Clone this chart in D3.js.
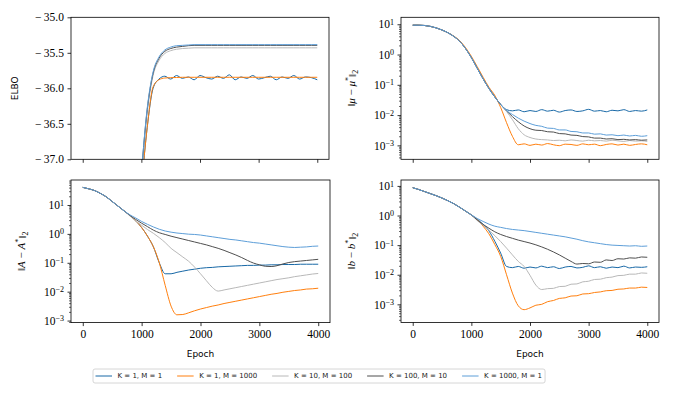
<!DOCTYPE html>
<html>
<head>
<meta charset="utf-8">
<script src="https://cdn.jsdelivr.net/npm/d3@7.9.0/dist/d3.min.js"></script>
<style>
  body { margin: 0; background: #fff; }
  .tick text { font-family: "Liberation Serif", serif; font-size: 11.5px; fill: #000; }
  .sans { font-family: "DejaVu Sans", sans-serif; }
  .math { font-family: "Liberation Serif", serif; }
</style>
</head>
<body>
<svg id="chart" width="677" height="396"></svg>
<script>
// sample epochs (every 100)
const epochs = [
  0, 100, 200, 300, 400, 500, 600, 700, 800, 900,
  1000, 1100, 1200, 1300, 1400, 1500, 1600, 1700, 1800, 1900,
  2000, 2100, 2200, 2300, 2400, 2500, 2600, 2700, 2800, 2900,
  3000, 3100, 3200, 3300, 3400, 3500, 3600, 3700, 3800, 3900, 4000,
];
const xTicks = [0, 1000, 2000, 3000, 4000];
const runLabels = ['K = 1, M = 1', 'K = 1, M = 1000', 'K = 10, M = 100', 'K = 100, M = 10', 'K = 1000, M = 1'];
const runColors = ['#1868a6', '#ff7f0e', '#b8b8b8', '#4f4f4f', '#5d9ed8'];

// ELBO (null = below the visible range)
const elboK1M1 = [
  null, null, null, null, null, null, null, null, null, null,
  -37.4, -36.55, -36.0, -35.87, -35.83, -35.87, -35.82, -35.86, -35.84, -35.88,
  -35.82, -35.85, -35.87, -35.83, -35.86, -35.81, -35.88, -35.84, -35.86, -35.82,
  -35.87, -35.85, -35.83, -35.88, -35.84, -35.86, -35.82, -35.87, -35.84, -35.85, -35.88,
];
const elboK1M1000 = [
  null, null, null, null, null, null, null, null, null, null,
  -37.4, -36.55, -35.98, -35.88, -35.855, -35.85, -35.848, -35.845, -35.845, -35.845,
  -35.845, -35.845, -35.845, -35.845, -35.845, -35.845, -35.845, -35.845, -35.845, -35.845,
  -35.845, -35.845, -35.845, -35.845, -35.845, -35.845, -35.845, -35.845, -35.845, -35.845, -35.845,
];
const elboK10M100 = [
  null, null, null, null, null, null, null, null, null, null,
  -37.25, -36.35, -35.82, -35.61, -35.51, -35.47, -35.45, -35.44, -35.435, -35.43,
  -35.43, -35.43, -35.43, -35.43, -35.43, -35.43, -35.43, -35.43, -35.43, -35.43,
  -35.43, -35.43, -35.43, -35.43, -35.43, -35.43, -35.43, -35.43, -35.43, -35.43, -35.43,
];
const elboK100M10 = [
  null, null, null, null, null, null, null, null, null, null,
  -37.2, -36.3, -35.79, -35.58, -35.48, -35.44, -35.42, -35.41, -35.4, -35.395,
  -35.395, -35.395, -35.395, -35.395, -35.395, -35.395, -35.395, -35.395, -35.395, -35.395,
  -35.395, -35.395, -35.395, -35.395, -35.395, -35.395, -35.395, -35.395, -35.395, -35.395, -35.395,
];
const elboK1000M1 = [
  null, null, null, null, null, null, null, null, null, null,
  -37.2, -36.28, -35.77, -35.56, -35.46, -35.42, -35.4, -35.395, -35.39, -35.385,
  -35.385, -35.385, -35.385, -35.385, -35.385, -35.385, -35.385, -35.385, -35.385, -35.385,
  -35.385, -35.385, -35.385, -35.385, -35.385, -35.385, -35.385, -35.385, -35.385, -35.385, -35.385,
];

// log10 of ||mu - mu*||_2
const muK1M1 = [
  0.97, 0.97, 0.96, 0.93, 0.88, 0.81, 0.72, 0.6, 0.44, 0.2,
  -0.1, -0.45, -0.8, -1.12, -1.4, -1.65, -1.82, -1.86, -1.83, -1.89,
  -1.85, -1.88, -1.82, -1.87, -1.84, -1.9, -1.85, -1.83, -1.88, -1.86,
  -1.81, -1.87, -1.85, -1.89, -1.84, -1.86, -1.82, -1.88, -1.85, -1.87, -1.83,
];
const muK1M1000 = [
  0.97, 0.97, 0.96, 0.93, 0.88, 0.81, 0.72, 0.61, 0.46, 0.23,
  -0.06, -0.4, -0.75, -1.08, -1.35, -1.75, -2.25, -2.7, -2.98, -2.95,
  -3.0, -2.96, -2.99, -2.94, -2.98, -3.01, -2.96, -2.97, -3.0, -2.95,
  -2.98, -2.96, -3.01, -2.97, -2.95, -2.99, -2.96, -3.0, -2.97, -2.95, -2.98,
];
const muK10M100 = [
  0.97, 0.97, 0.96, 0.93, 0.88, 0.81, 0.72, 0.6, 0.44, 0.2,
  -0.1, -0.45, -0.8, -1.12, -1.4, -1.65, -1.88, -2.15, -2.45, -2.65,
  -2.74, -2.79, -2.81, -2.82, -2.84, -2.83, -2.85, -2.82, -2.84, -2.86,
  -2.83, -2.85, -2.84, -2.86, -2.83, -2.85, -2.87, -2.84, -2.86, -2.85, -2.87,
];
const muK100M10 = [
  0.97, 0.97, 0.96, 0.93, 0.88, 0.81, 0.72, 0.6, 0.44, 0.2,
  -0.1, -0.45, -0.8, -1.12, -1.4, -1.65, -1.86, -2.05, -2.22, -2.36,
  -2.45, -2.5, -2.51, -2.55, -2.56, -2.61, -2.62, -2.66, -2.67, -2.71,
  -2.72, -2.76, -2.76, -2.79, -2.78, -2.81, -2.8, -2.82, -2.81, -2.83, -2.82,
];
const muK1000M1 = [
  0.97, 0.97, 0.96, 0.93, 0.88, 0.81, 0.72, 0.6, 0.44, 0.2,
  -0.1, -0.45, -0.8, -1.12, -1.4, -1.65, -1.85, -1.98, -2.1, -2.2,
  -2.28, -2.34, -2.37, -2.43, -2.44, -2.49, -2.49, -2.54, -2.55, -2.59,
  -2.59, -2.63, -2.62, -2.66, -2.65, -2.68, -2.66, -2.69, -2.67, -2.7, -2.68,
];

// log10 of ||A - A*||_2
const aK1M1 = [
  1.61, 1.56, 1.5, 1.4, 1.28, 1.12, 0.96, 0.8, 0.64, 0.45,
  0.22, -0.08, -0.45, -1.0, -1.38, -1.38, -1.33, -1.29, -1.25, -1.22,
  -1.19, -1.17, -1.16, -1.14, -1.13, -1.12, -1.11, -1.1, -1.09, -1.09,
  -1.08, -1.08, -1.07, -1.07, -1.06, -1.06, -1.06, -1.05, -1.05, -1.05, -1.05,
];
const aK1M1000 = [
  1.61, 1.56, 1.5, 1.4, 1.28, 1.12, 0.96, 0.8, 0.64, 0.45,
  0.22, -0.08, -0.45, -1.0, -1.78, -2.5, -2.8, -2.79, -2.73, -2.66,
  -2.6, -2.55, -2.5, -2.46, -2.41, -2.37, -2.33, -2.29, -2.25, -2.21,
  -2.17, -2.13, -2.09, -2.06, -2.02, -1.99, -1.96, -1.94, -1.91, -1.9, -1.88,
];
const aK10M100 = [
  1.61, 1.56, 1.5, 1.4, 1.28, 1.12, 0.96, 0.8, 0.62, 0.45,
  0.3, 0.15, 0.02, -0.13, -0.3, -0.5, -0.65, -0.8, -0.95, -1.15,
  -1.38, -1.62, -1.85, -1.98, -1.94, -1.9, -1.86, -1.82, -1.78, -1.74,
  -1.7, -1.66, -1.62, -1.58, -1.55, -1.52, -1.48, -1.45, -1.42, -1.39, -1.37,
];
const aK100M10 = [
  1.61, 1.56, 1.5, 1.4, 1.28, 1.12, 0.96, 0.8, 0.64, 0.5,
  0.37, 0.25, 0.13, 0.04, -0.02, -0.08, -0.13, -0.18, -0.23, -0.28,
  -0.33, -0.38, -0.44, -0.5, -0.57, -0.65, -0.73, -0.82, -0.92, -1.01,
  -1.07, -1.12, -1.13, -1.1, -1.04, -0.99, -0.96, -0.94, -0.92, -0.9, -0.88,
];
const aK1000M1 = [
  1.61, 1.56, 1.5, 1.4, 1.28, 1.12, 0.96, 0.8, 0.66, 0.55,
  0.43, 0.33, 0.24, 0.16, 0.1, 0.06, 0.03, 0.01, -0.01, -0.02,
  -0.04, -0.07, -0.1, -0.13, -0.16, -0.19, -0.21, -0.24, -0.27, -0.3,
  -0.32, -0.35, -0.38, -0.41, -0.44, -0.46, -0.47, -0.46, -0.45, -0.43, -0.42,
];

// log10 of ||b - b*||_2
const bK1M1 = [
  0.94, 0.88, 0.81, 0.74, 0.67, 0.59, 0.5, 0.4, 0.28, 0.15,
  0.02, -0.12, -0.3, -0.52, -0.87, -1.27, -1.72, -1.76, -1.72, -1.78,
  -1.74, -1.77, -1.71, -1.76, -1.73, -1.79, -1.74, -1.72, -1.77, -1.75,
  -1.7, -1.76, -1.73, -1.78, -1.74, -1.76, -1.71, -1.77, -1.74, -1.75, -1.73,
];
const bK1M1000 = [
  0.94, 0.88, 0.81, 0.74, 0.67, 0.59, 0.5, 0.4, 0.28, 0.15,
  0.02, -0.14, -0.36, -0.62, -0.98, -1.38, -2.0, -2.62, -3.05, -3.18,
  -3.12, -3.03, -3.0, -2.91, -2.87, -2.8, -2.78, -2.72, -2.71, -2.65,
  -2.64, -2.6, -2.58, -2.54, -2.53, -2.49, -2.48, -2.45, -2.45, -2.42, -2.43,
];
const bK10M100 = [
  0.94, 0.88, 0.81, 0.74, 0.67, 0.59, 0.5, 0.4, 0.28, 0.15,
  0.02, -0.17, -0.33, -0.5, -0.68, -0.88, -1.1, -1.33, -1.55, -1.72,
  -2.02, -2.35, -2.5, -2.47, -2.46, -2.4, -2.39, -2.32, -2.31, -2.24,
  -2.22, -2.16, -2.15, -2.1, -2.08, -2.03, -2.02, -1.98, -1.98, -1.94, -1.95,
];
const bK100M10 = [
  0.94, 0.88, 0.81, 0.74, 0.67, 0.59, 0.5, 0.4, 0.28, 0.15,
  0.02, -0.15, -0.3, -0.43, -0.55, -0.64, -0.71, -0.77, -0.83, -0.88,
  -0.93, -0.99, -1.06, -1.14, -1.23, -1.33, -1.44, -1.55, -1.64, -1.62,
  -1.63, -1.57, -1.58, -1.5, -1.52, -1.46, -1.47, -1.43, -1.44, -1.4, -1.41,
];
const bK1000M1 = [
  0.94, 0.88, 0.81, 0.74, 0.67, 0.59, 0.5, 0.4, 0.28, 0.15,
  0.02, -0.1, -0.2, -0.29, -0.36, -0.4, -0.44, -0.47, -0.49, -0.51,
  -0.54, -0.57, -0.6, -0.63, -0.66, -0.69, -0.72, -0.76, -0.8, -0.85,
  -0.89, -0.92, -0.95, -0.98, -1.0, -1.01, -1.02, -1.03, -1.02, -1.04, -1.03,
];

const svg = d3.select('#chart');

const panels = [
  { id: 'elbo', series: [elboK1M1, elboK1M1000, elboK10M100, elboK100M10, elboK1000M1],
    log: false, domain: [-37, -35], yTicks: [-37, -36.5, -36, -35.5, -35],
    box: [71, 329, 17.3, 159.3], xLabels: false, labelX: 15 },
  { id: 'mu', series: [muK1M1, muK1M1000, muK10M100, muK100M10, muK1000M1],
    log: true, domain: [-3.46, 1.23],
    box: [401, 659, 17.3, 159.3], xLabels: false, labelX: 352, sym: 'μ' },
  { id: 'A', series: [aK1M1, aK1M1000, aK10M100, aK100M10, aK1000M1],
    log: true, domain: [-3.07, 1.865],
    box: [71, 330, 180, 322.6], xLabels: true, labelX: 22, sym: 'A' },
  { id: 'b', series: [bK1M1, bK1M1000, bK10M100, bK100M10, bK1000M1],
    log: true, domain: [-3.61, 1.2],
    box: [401, 659, 180, 322.4], xLabels: true, labelX: 352, sym: 'b' },
];

const supText = (e) => (e < 0 ? '\u2212' + (-e) : String(e));
// mathtext-style minus: a little wider gap before the number
const elboFmt = (v) => (v < 0 ? '\u2212\u2009' : '') + d3.format('.1f')(Math.abs(v));

panels.forEach((p) => {
  const [x0, x1, y0, y1] = p.box;
  const x = d3.scaleLinear().domain([-200, 4200]).range([x0, x1]);
  const y = p.log
    ? d3.scaleLog().domain([10 ** p.domain[0], 10 ** p.domain[1]]).range([y1, y0])
    : d3.scaleLinear().domain(p.domain).range([y1, y0]);
  const yv = (d) => (p.log ? 10 ** d : d);

  const g = svg.append('g');
  const clipId = 'clip-' + p.id;
  g.append('clipPath').attr('id', clipId)
    .append('rect').attr('x', x0).attr('y', y0).attr('width', x1 - x0).attr('height', y1 - y0);

  const line = d3.line()
    .defined((d) => d != null)
    .x((d, i) => x(epochs[i]))
    .y((d) => y(yv(d)))
    .curve(d3.curveMonotoneX);

  g.append('g').attr('clip-path', `url(#${clipId})`)
    .selectAll('path')
    .data(p.series)
    .join('path')
    .attr('d', line)
    .attr('fill', 'none')
    .attr('stroke', (d, i) => runColors[i])
    .attr('stroke-width', 1)
    .attr('stroke-linejoin', 'round');

  // x axis
  const xAxis = d3.axisBottom(x).tickValues(xTicks).tickSize(3.5).tickPadding(3.5)
    .tickFormat(p.xLabels ? d3.format('d') : '');
  g.append('g').attr('transform', `translate(0,${y1})`).call(xAxis)
    .call((a) => a.select('.domain').remove())
    .call((a) => a.selectAll('line').attr('stroke-width', 0.8));

  // y axis
  if (p.log) {
    const lo = Math.ceil(p.domain[0]);
    const hi = Math.floor(p.domain[1]);
    const majors = d3.range(lo, hi + 1).map((e) => 10 ** e);
    const minors = [];
    for (let e = Math.floor(p.domain[0]); e <= hi; e++) {
      for (let m = 2; m <= 9; m++) {
        const v = m * 10 ** e;
        if (v >= 10 ** p.domain[0] && v <= 10 ** p.domain[1]) minors.push(v);
      }
    }
    g.append('g').attr('transform', `translate(${x0},0)`)
      .call(d3.axisLeft(y).tickValues(minors).tickSize(2).tickFormat(''))
      .call((a) => a.select('.domain').remove())
      .call((a) => a.selectAll('line').attr('stroke-width', 0.6));
    g.append('g').attr('transform', `translate(${x0},0)`)
      .call(d3.axisLeft(y).tickValues(majors).tickSize(3.5).tickPadding(3.5))
      .call((a) => a.select('.domain').remove())
      .call((a) => a.selectAll('line').attr('stroke-width', 0.8))
      .call((a) => a.selectAll('.tick text').each(function (d) {
        const e = Math.round(Math.log10(d));
        const t = d3.select(this).text('10');
        t.append('tspan').attr('dy', '-0.45em').attr('font-size', '8px').text(supText(e));
      }));
  } else {
    g.append('g').attr('transform', `translate(${x0},0)`)
      .call(d3.axisLeft(y).tickValues(p.yTicks).tickSize(3.5).tickPadding(3.5).tickFormat(elboFmt))
      .call((a) => a.select('.domain').remove())
      .call((a) => a.selectAll('line').attr('stroke-width', 0.8));
  }

  g.append('rect').attr('x', x0).attr('y', y0).attr('width', x1 - x0).attr('height', y1 - y0)
    .attr('fill', 'none').attr('stroke', '#000').attr('stroke-width', 0.8);

  // y label
  const cy = (y0 + y1) / 2;
  const lab = g.append('text')
    .attr('transform', `translate(${p.labelX},${cy}) rotate(-90)`)
    .attr('text-anchor', 'middle')
    .attr('dominant-baseline', 'middle');
  if (!p.sym) {
    lab.attr('class', 'sans').attr('font-size', 9).text('ELBO');
  } else {
    lab.attr('class', 'math').attr('font-size', 11);
    lab.append('tspan').text('\u2016');
    lab.append('tspan').attr('font-style', 'italic').text(p.sym);
    lab.append('tspan').text(' \u2212 ');
    lab.append('tspan').attr('font-style', 'italic').text(p.sym);
    lab.append('tspan').attr('dy', '-0.4em').attr('font-size', '8px').text('*');
    lab.append('tspan').attr('dy', '0.4em').text('\u2016');
    lab.append('tspan').attr('dy', '0.3em').attr('font-size', '8px').text('2');
  }

  if (p.xLabels) {
    g.append('text').attr('class', 'sans').attr('font-size', 9)
      .attr('x', (x0 + x1) / 2).attr('y', 357).attr('text-anchor', 'middle').text('Epoch');
  }
});

// legend
const legend = svg.append('g').attr('class', 'sans');
const legendBox = legend.append('rect')
  .attr('y', 369).attr('height', 14).attr('rx', 2)
  .attr('fill', '#fff').attr('stroke', '#cccccc').attr('stroke-width', 0.8);
let lx = 95.5;
runLabels.forEach((name, i) => {
  legend.append('line')
    .attr('x1', lx).attr('x2', lx + 16.5).attr('y1', 376).attr('y2', 376)
    .attr('stroke', runColors[i]).attr('stroke-width', 1);
  const t = legend.append('text').attr('x', lx + 22).attr('y', 376)
    .attr('dominant-baseline', 'middle').attr('font-size', 7).attr('fill', '#222').text(name);
  lx += 22 + t.node().getComputedTextLength() + 15;
});
legendBox.attr('x', 93).attr('width', lx - 15 + 3 - 93);
</script>
</body>
</html>
